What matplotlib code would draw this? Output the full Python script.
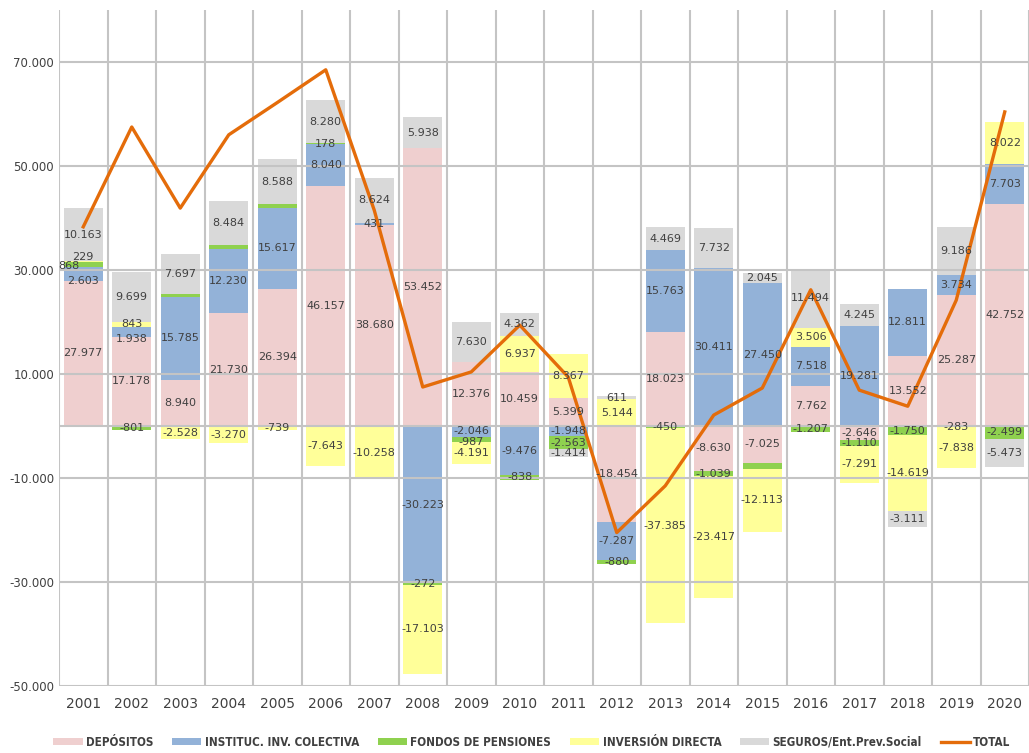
import numpy as np
import matplotlib
matplotlib.use("Agg")
import matplotlib.pyplot as plt

years = list(range(2001, 2021))

depositos = [27977, 17178, 8940, 21730, 26394, 46157, 38680, 53452, 12376, 10459,
             5399, -18454, 18023, -8630, -7025, 7762, -2646, 13552, 25287, 42752]
instituc = [2603, 1938, 15785, 12230, 15617, 8040, 431, -30223, -2046, -9476,
            -1948, -7287, 15763, 30411, 27450, 7518, 19281, 12811, 3734, 7703]
fondos = [868, -801, 700, 900, 700, 178, 0, -272, -987, -838,
          -2563, -880, -450, -1039, -1200, -1207, -1110, -1750, -283, -2499]
inversion = [229, 843, -2528, -3270, -739, -7643, -10258, -17103, -4191, 6937,
             8367, 5144, -37385, -23417, -12113, 3506, -7291, -14619, -7838, 8022]
seguros = [10163, 9699, 7697, 8484, 8588, 8280, 8624, 5938, 7630, 4362,
           -1414, 611, 4469, 7732, 2045, 11494, 4245, -3111, 9186, -5473]
total = [38300, 57500, 41900, 56000, 62200, 68500, 41500, 7500, 10400, 19400,
         9400, -20500, -11500, 2100, 7300, 26200, 6900, 3800, 24200, 60400]

series = [
    ("DEPÓSITOS", depositos, "#EFCFCF"),
    ("INSTITUC. INV. COLECTIVA", instituc, "#93B2D8"),
    ("FONDOS DE PENSIONES", fondos, "#8FD14F"),
    ("INVERSIÓN DIRECTA", inversion, "#FFFF99"),
    ("SEGUROS/Ent.Prev.Social", seguros, "#D9D9D9"),
]
# segmentos sin etiqueta en el original
sin_etiqueta = {("FONDOS DE PENSIONES", 2003), ("FONDOS DE PENSIONES", 2004),
                ("FONDOS DE PENSIONES", 2005), ("FONDOS DE PENSIONES", 2007),
                ("FONDOS DE PENSIONES", 2015)}

fig = plt.figure(figsize=(10.29, 7.53), dpi=100)
ax = fig.add_axes([59 / 1029, 1 - 686 / 753, 970 / 1029, 676 / 753])

x = np.arange(len(years))
pos_base = np.zeros(len(years))
neg_base = np.zeros(len(years))
handles = []
for name, vals, color in series:
    v = np.array(vals, dtype=float)
    bottom = np.where(v >= 0, pos_base, neg_base)
    h = ax.bar(x, v, 0.8, bottom=bottom, color=color, label=name, zorder=1)
    handles.append(h)
    for i in range(len(years)):
        if v[i] == 0 or (name, years[i]) in sin_etiqueta:
            continue
        txt = "{:,.0f}".format(v[i]).replace(",", ".")
        xo = x[i]
        yo = bottom[i] + v[i] / 2
        # pequeños ajustes donde las etiquetas se pisan
        if years[i] == 2001 and name == "INSTITUC. INV. COLECTIVA":
            yo -= 1300
        if years[i] == 2001 and name == "FONDOS DE PENSIONES":
            xo -= 0.3
            yo -= 200
        if years[i] == 2001 and name == "INVERSIÓN DIRECTA":
            yo += 1000
        if years[i] == 2002 and name == "INSTITUC. INV. COLECTIVA":
            yo -= 1500
        if years[i] == 2009 and name == "FONDOS DE PENSIONES":
            yo -= 600
        ax.text(xo, yo, txt, ha="center", va="center",
                fontsize=8, color="#404040", family="DejaVu Sans", zorder=4)
    pos_base = pos_base + np.where(v > 0, v, 0)
    neg_base = neg_base + np.where(v < 0, v, 0)

ln, = ax.plot(x, total, color="#E46C0A", lw=2.4, label="TOTAL", zorder=3)
handles.append(ln)

ax.set_xlim(-0.5, len(years) - 0.5)
ax.set_ylim(-50000, 80000)
ax.set_xticks(x)
ax.set_xticklabels([str(y) for y in years], fontsize=10, color="#404040")
ax.set_xticks(np.arange(-0.5, len(years), 1), minor=True)
ax.set_yticks(np.arange(-50000, 80001, 20000))
ax.set_yticklabels(["{:,.0f}".format(t).replace(",", ".") for t in np.arange(-50000, 80001, 20000)],
                   fontsize=8.5, color="#404040")
ax.tick_params(which="both", length=0)
ax.tick_params(axis="x", pad=8)
ax.grid(axis="x", which="minor", color="#C4C4C4", lw=1.5)
ax.grid(axis="y", which="major", color="#C4C4C4", lw=1.5)
ax.axhline(0, color="#C4C4C4", lw=1.5, zorder=2)
ax.set_axisbelow(False)
for s in ax.spines.values():
    s.set_visible(False)

leg = fig.legend(handles=handles, loc="lower center", ncol=6, bbox_to_anchor=(0.517, -0.008),
                 frameon=False, handlelength=2.5, handleheight=0.45, columnspacing=1.6,
                 handletextpad=0.3,
                 prop={"family": "DejaVu Sans", "stretch": "condensed", "weight": "bold", "size": 8.4})
for t in leg.get_texts():
    t.set_color("#404040")

fig.savefig("out.png", dpi=100)
